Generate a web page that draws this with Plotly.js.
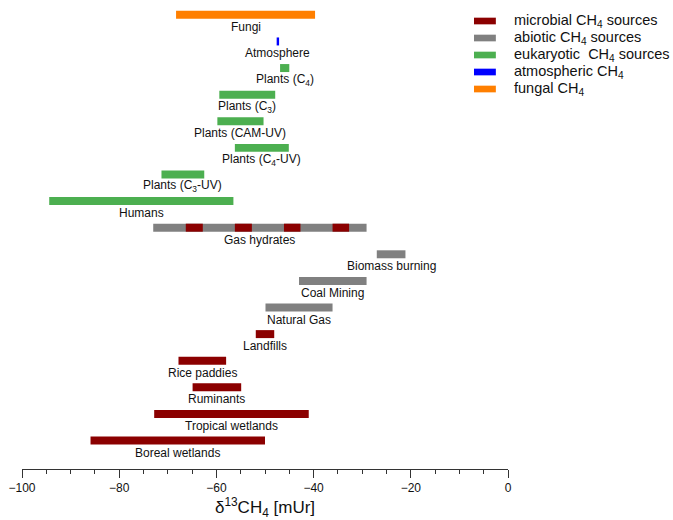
<!DOCTYPE html>
<html>
<head>
<meta charset="utf-8">
<script src="https://cdn.plot.ly/plotly-3.0.1.min.js"></script>
<style>html,body{margin:0;padding:0;background:#fff;}#chart{width:673px;height:520px;}</style>
</head>
<body>
<div id="chart"></div>
<script>
// Category order from bottom (index 0) to top
const categories = ["Boreal wetlands", "Tropical wetlands", "Ruminants", "Rice paddies", "Landfills",
  "Natural Gas", "Coal Mining", "Biomass burning", "Gas hydrates", "Humans",
  "Plants (C<sub>3</sub>-UV)", "Plants (C<sub>4</sub>-UV)", "Plants (CAM-UV)", "Plants (C<sub>3</sub>)",
  "Plants (C<sub>4</sub>)", "Atmosphere", "Fungi"];

// microbial sources
const microbialCats  = ["Boreal wetlands", "Tropical wetlands", "Ruminants", "Rice paddies", "Landfills"];
const microbialStart = [-85.9, -72.8, -64.9, -67.8, -51.9];
const microbialEnd   = [-50.0, -41.0, -54.9, -58.0, -48.1];

// abiotic sources
const abioticCats  = ["Natural Gas", "Coal Mining", "Biomass burning", "Gas hydrates"];
const abioticStart = [-49.9, -43.0, -27.0, -73.0];
const abioticEnd   = [-36.1, -29.1, -21.1, -29.1];

// microbial segments within gas hydrates
const hydrateMicrobialStart = [-66.3, -56.2, -46.1, -36.1];
const hydrateMicrobialEnd   = [-62.8, -52.7, -42.7, -32.7];

// eukaryotic sources
const eukaryoticCats  = ["Humans", "Plants (C<sub>3</sub>-UV)", "Plants (C<sub>4</sub>-UV)", "Plants (CAM-UV)", "Plants (C<sub>3</sub>)", "Plants (C<sub>4</sub>)"];
const eukaryoticStart = [-94.4, -71.3, -56.2, -59.8, -59.4, -46.9];
const eukaryoticEnd   = [-56.5, -62.5, -45.1, -50.3, -47.9, -45.0];

// atmospheric
const atmosphericCats  = ["Atmosphere"];
const atmosphericStart = [-47.6];
const atmosphericEnd   = [-47.1];

// fungal
const fungalCats  = ["Fungi"];
const fungalStart = [-68.3];
const fungalEnd   = [-39.7];

const legendNames = ["microbial CH<sub>4</sub> sources", "abiotic CH<sub>4</sub> sources",
  "eukaryotic  CH<sub>4</sub> sources", "atmospheric CH<sub>4</sub>", "fungal CH<sub>4</sub>"];
const colors = ["#8B0000", "#808080", "#4CAF50", "#0000FF", "#FF7F00"];

const FONT = "Liberation Sans, Arial, sans-serif";
const BARW = 0.3;
function barTrace(cats, s, e, color) {
  return {
    type: "bar", orientation: "h", y: cats, base: s,
    x: s.map((v, i) => e[i] - v), width: BARW,
    marker: {color: color, line: {width: 0}},
    showlegend: false, hoverinfo: "skip"
  };
}

const traces = [
  barTrace(microbialCats, microbialStart, microbialEnd, colors[0]),
  barTrace(abioticCats, abioticStart, abioticEnd, colors[1]),
  barTrace(hydrateMicrobialStart.map(() => "Gas hydrates"), hydrateMicrobialStart, hydrateMicrobialEnd, colors[0]),
  barTrace(eukaryoticCats, eukaryoticStart, eukaryoticEnd, colors[2]),
  barTrace(atmosphericCats, atmosphericStart, atmosphericEnd, colors[3]),
  barTrace(fungalCats, fungalStart, fungalEnd, colors[4])
];

// labels centered under bars
const allCats = [].concat(microbialCats, abioticCats, eukaryoticCats, atmosphericCats, fungalCats);
const allStart = [].concat(microbialStart, abioticStart, eukaryoticStart, atmosphericStart, fungalStart);
const allEnd = [].concat(microbialEnd, abioticEnd, eukaryoticEnd, atmosphericEnd, fungalEnd);
const annotations = allCats.map((c, i) => ({
  x: (allStart[i] + allEnd[i]) / 2, y: categories.indexOf(c), xref: "x", yref: "y",
  text: c, showarrow: false, yshift: -12,
  font: {family: FONT, size: 12, color: "#111"}
}));

// custom legend (compact row spacing like the reference)
const shapes = [];
const legTop = 0.9655, legStep = 0.03664;
legendNames.forEach((n, i) => {
  const yc = legTop - i * legStep;
  shapes.push({type: "rect", xref: "paper", yref: "paper",
    x0: 0.930, x1: 0.975, y0: yc - 0.0072, y1: yc + 0.0072,
    fillcolor: colors[i], line: {width: 0}});
  annotations.push({xref: "paper", yref: "paper", x: 1.008, y: yc,
    xanchor: "left", yanchor: "middle", text: n, showarrow: false,
    font: {family: FONT, size: 14.5, color: "#111"}});
});

const layout = {
  width: 673, height: 520,
  margin: {l: 22, r: 165, t: 5, b: 51},
  paper_bgcolor: "#fff", plot_bgcolor: "#fff",
  barmode: "overlay",
  showlegend: false,
  font: {family: FONT, color: "#111"},
  xaxis: {
    range: [-100, 0], dtick: 20, tick0: -100, ticks: "outside", ticklen: 8, tickcolor: "#333",
    showline: true, linecolor: "#333", linewidth: 1, showgrid: false, zeroline: false,
    tickfont: {size: 12, color: "#111"},
    minor: {dtick: 5, tick0: -100, ticks: "outside", ticklen: 4, tickcolor: "#333", showgrid: false},
    title: {text: "δ<sup>13</sup>CH<sub>4</sub> [mUr]", font: {size: 17, color: "#111"}, standoff: 8}
  },
  yaxis: {
    type: "category", categoryorder: "array", categoryarray: categories,
    range: [-1.07, 16.37], showticklabels: false, ticks: "", showgrid: false,
    zeroline: false, showline: false
  },
  shapes: shapes,
  annotations: annotations
};

Plotly.newPlot("chart", traces, layout, {displayModeBar: false, staticPlot: true});
</script>
</body>
</html>
